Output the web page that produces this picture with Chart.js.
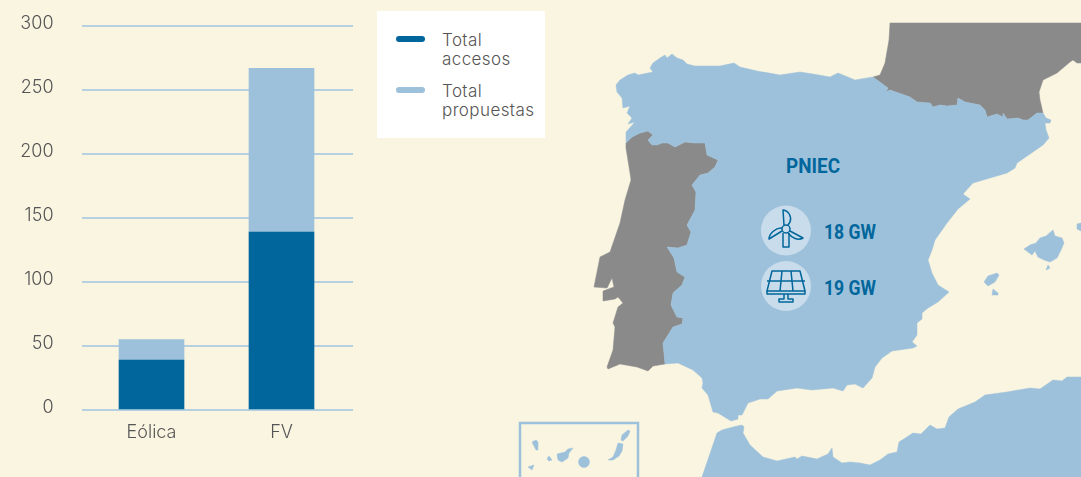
<!DOCTYPE html>
<html lang="es">
<head>
<meta charset="utf-8">
<title>Accesos y propuestas</title>
<script src="https://cdn.jsdelivr.net/npm/chart.js@4"></script>
<style>
  html, body { margin: 0; padding: 0; background: #faf5e1; overflow: hidden; }
  #wrap { position: relative; width: 1081px; height: 477px; }
  #map { position: absolute; left: 0; top: 0; }
  #chart { position: absolute; left: 0; top: 0; }
  #legend {
    position: absolute; left: 377px; top: 11px; width: 168px; height: 127px;
    background: #fff; font: 300 17px/19px Inter, sans-serif; letter-spacing: 0.4px; color: #555;
  }
  .legend-item { position: absolute; left: 65px; width: 100px; }
  .legend-item i {
    position: absolute; left: -46px; top: 5px; width: 29px; height: 6px; border-radius: 3px;
  }
  svg text { font-family: Roboto, sans-serif; font-weight: 700; font-size: 20px; fill: #00669b; }
  .icon { fill: none; stroke: #00669b; stroke-width: 1.5; stroke-linejoin: round; }
</style>
</head>
<body>
<div id="wrap">
  <svg id="map" width="1081" height="477" viewBox="0 0 1081 477">
    <g fill="#8a8a8a" stroke="#8a8a8a" stroke-width="0.5" stroke-linejoin="round">
      <!-- Francia -->
      <path d="M890,23 L1081,23 L1081,63 L1077,63 L1073,60 L1070,62 L1057,73 L1043,80 L1039,92 L1040,100 L1043,113 L1037,113 L1028,120 L1023,120 L1018,118 L1007,119 L1003,113 L1003,117 L997,114 L987,117 L985,110 L980,105 L965,102 L958,98 L957,105 L947,106 L940,105 L933,107 L930,103 L917,102 L910,97 L890,90 L886,92 L888,88 L873,77 L880,75 L885,63 L889,40 Z"/>
      <!-- Portugal -->
      <path d="M626,143 L632,137 L640,133 L648,131 L653,135 L648,140 L652,145 L657,145 L662,143 L668,143 L675,147 L685,142 L695,143 L705,143 L707,155 L718,160 L715,167 L708,173 L700,175 L692,185 L696,192 L695,210 L687,225 L691,232 L687,245 L678,248 L667,247 L674,258 L677,272 L685,277 L682,285 L673,293 L671,305 L677,317 L683,318 L682,324 L673,327 L663,343 L665,364 L653,366 L648,371 L637,367 L620,364 L608,369 L607,367 L613,350 L615,327 L613,323 L618,307 L623,303 L618,297 L615,299 L603,301 L603,291 L614,287 L612,278 L607,288 L594,287 L600,257 L610,252 L620,223 L625,200 L631,180 L630,173 L626,148 Z"/>
    </g>
    <g fill="#9dc1db" stroke="#9dc1db" stroke-width="0.5" stroke-linejoin="round">
      <!-- España -->
      <path d="M616,85 L620,80 L628,75 L635,73 L638,75 L653,72 L650,68 L653,63 L660,58 L665,55 L667,58 L672,54 L677,58 L683,60 L687,64 L695,66 L720,66 L734,63 L740,67 L757,71 L780,75 L800,72 L813,74 L830,77 L838,73 L855,80 L873,77 L888,88 L886,92 L890,90 L910,97 L917,102 L930,103 L933,107 L940,105 L947,106 L957,105 L958,98 L965,102 L980,105 L985,110 L987,117 L997,114 L1003,117 L1003,113 L1007,119 L1018,118 L1023,120 L1028,120 L1037,113 L1043,113 L1046,118 L1051,120 L1050,123 L1045,123 L1046,130 L1049,138 L1043,145 L1017,163 L1015,168 L1007,173 L973,183 L963,194 L970,199 L958,209 L947,223 L935,240 L932,250 L928,260 L932,273 L938,285 L949,292 L938,302 L928,308 L922,313 L922,319 L917,323 L917,335 L912,342 L917,346 L913,348 L892,351 L882,358 L875,367 L872,378 L863,388 L855,384 L847,385 L843,391 L833,388 L812,390 L797,388 L777,391 L768,399 L760,399 L748,403 L742,415 L738,415 L738,419 L731,421 L718,413 L713,412 L708,395 L702,388 L703,383 L702,378 L693,370 L678,363 L665,364 L663,343 L673,327 L682,324 L683,318 L677,317 L671,305 L673,293 L682,285 L685,277 L677,272 L674,258 L667,247 L678,248 L687,245 L691,232 L687,225 L695,210 L696,192 L692,185 L700,175 L708,173 L715,167 L718,160 L707,155 L705,143 L695,143 L685,142 L675,147 L668,143 L662,143 L657,145 L652,145 L648,140 L653,135 L648,131 L640,133 L632,137 L626,143 L626,132 L635,122 L628,124 L632,118 L627,113 L630,106 L623,108 L622,98 L617,92 Z"/>
      <!-- Africa -->
      <path d="M702,477 L717,433 L722,430 L733,427 L742,425 L744,427 L743,433 L750,445 L763,457 L777,461 L795,457 L797,459 L802,456 L817,459 L828,454 L832,448 L833,457 L842,463 L850,462 L860,463 L870,465 L880,460 L888,454 L897,452 L899,442 L913,433 L921,434 L930,425 L937,429 L945,428 L949,417 L958,409 L975,402 L985,395 L1007,392 L1030,388 L1040,389 L1053,380 L1062,381 L1067,377 L1081,377 L1081,477 Z"/>
      <!-- Baleares -->
      <path d="M1024,249 L1030,245 L1036,243 L1040,238 L1046,236 L1053,230 L1055,236 L1062,238 L1064,243 L1061,250 L1057,258 L1050,262 L1044,260 L1038,257 L1035,251 L1032,255 Z"/>
      <path d="M1077,224 L1081,223 L1081,231 L1077,229 Z"/>
      <path d="M984,282 L988,276 L997,273 L999,275 L995,282 L988,286 Z"/>
      <path d="M992,295 L993,289 L998,293 L998,295 Z"/>
      <path d="M1046,270 L1048,265 L1050,268 Z"/>
      <!-- Canarias -->
      <path d="M532,442 L536,440 L538,442 L538,450 L536,450 Z"/>
      <path d="M547,459 L549,456 L552,460 L549,461 Z"/>
      <path d="M528,467 L534,465 L532,470 Z"/>
      <path d="M557,454 L565,452 L568,449 L573,448 L569,453 L568,458 L562,462 L558,460 Z"/>
      <circle cx="584" cy="462" r="5.5"/>
      <path d="M608,460 L613,457 L616,450 L618,443 L623,444 L622,451 L619,456 L613,460 Z"/>
      <path d="M621,440 L622,435 L628,430 L630,431 L628,436 L623,441 Z"/>
    </g>
    <rect x="520" y="423" width="118" height="70" fill="none" stroke="#9dc1db" stroke-width="2.5"/>

    <text x="786" y="173" textLength="54" lengthAdjust="spacingAndGlyphs">PNIEC</text>
    <circle cx="786" cy="230.5" r="25" fill="#c9dceb"/>
    <circle cx="786" cy="286" r="25" fill="#c9dceb"/>
    <text x="824" y="239" textLength="52" lengthAdjust="spacingAndGlyphs">18 GW</text>
    <text x="824" y="295" textLength="52" lengthAdjust="spacingAndGlyphs">19 GW</text>

    <!-- aerogenerador -->
    <g class="icon">
      <path d="M783,233 L783,247 L789,247 L789,233"/>
      <path d="M784,225 L783,210 C789,211 792,217 790,222 L788,225"/>
      <path d="M782,231 L769,239 C769,234 776,227 782,228"/>
      <path d="M790,231 L803,238 C798,241 792,238 788,233"/>
      <circle cx="786" cy="229" r="4"/>
    </g>
    <!-- panel solar -->
    <g class="icon">
      <path d="M772,271 L800,271 L805,291 L767,291 Z"/>
      <path d="M767,291 L767,294 L805,294 L805,291"/>
      <path d="M767,281 L805,281 M782,271 L780,291 M791,271 L793,291"/>
      <path d="M784,294 L784,299 L779,299 L779,302 L793,302 L793,299 L788,299 L788,294"/>
    </g>
  </svg>

  <canvas id="chart" width="1081" height="477"></canvas>
  <div id="legend"></div>
</div>

<script>
const categories = ['Eólica', 'FV'];
const totalAccesos = [39, 139];
const totalPropuestas = [16, 128];
const yTicks = [0, 50, 100, 150, 200, 250, 300];
const seriesNames = ['Total accesos', 'Total propuestas'];
const seriesColors = ['#00669b', '#9dc1db'];

const TICK_FONT = { family: 'Inter', size: 18, weight: '300' };

const toPoints = (values) => values.map((v, i) => ({ x: i, y: v }));

new Chart(document.getElementById('chart').getContext('2d'), {
    type: 'bar',
    data: {
        datasets: [
            { label: seriesNames[0], data: toPoints(totalAccesos), backgroundColor: seriesColors[0], barThickness: 65 },
            { label: seriesNames[1], data: toPoints(totalPropuestas), backgroundColor: seriesColors[1], barThickness: 65 }
        ]
    },
    options: {
        responsive: false,
        animation: false,
        layout: { padding: { left: 0, right: 728, top: 26, bottom: 0 } },
        plugins: { legend: { display: false }, tooltip: { enabled: false } },
        scales: {
            x: {
                type: 'linear',
                offset: false,
                stacked: true,
                min: -0.5385,
                max: 1.55,
                afterBuildTicks: (scale) => { scale.ticks = categories.map((_, i) => ({ value: i })); },
                afterFit: (scale) => { scale.height = 67; },
                grid: { display: false },
                border: { display: false },
                ticks: {
                    autoSkip: false,
                    maxRotation: 0,
                    padding: 4,
                    color: '#555',
                    font: TICK_FONT,
                    callback: (value) => categories[value]
                }
            },
            y: {
                stacked: true,
                min: yTicks[0],
                max: yTicks[yTicks.length - 1],
                afterFit: (scale) => { scale.width = 81.5; },
                afterBuildTicks: (scale) => { scale.ticks = yTicks.map((v) => ({ value: v })); },
                // tick transparente: separa las etiquetas sin sumar padding arriba
                grid: { color: '#b5d0e0', lineWidth: 2, tickLength: 28, tickColor: 'transparent' },
                border: { display: false },
                ticks: {
                    padding: 0,
                    labelOffset: -2,
                    color: '#555',
                    font: TICK_FONT
                }
            }
        }
    }
});

// leyenda en html, cada serie con su color
const legendEl = document.getElementById('legend');
seriesNames.forEach((name, i) => {
    const item = document.createElement('div');
    item.className = 'legend-item';
    item.style.top = (20 + i * 51) + 'px';
    item.innerHTML = '<i style="background:' + seriesColors[i] + '"></i>' + name;
    legendEl.appendChild(item);
});
</script>
</body>
</html>
